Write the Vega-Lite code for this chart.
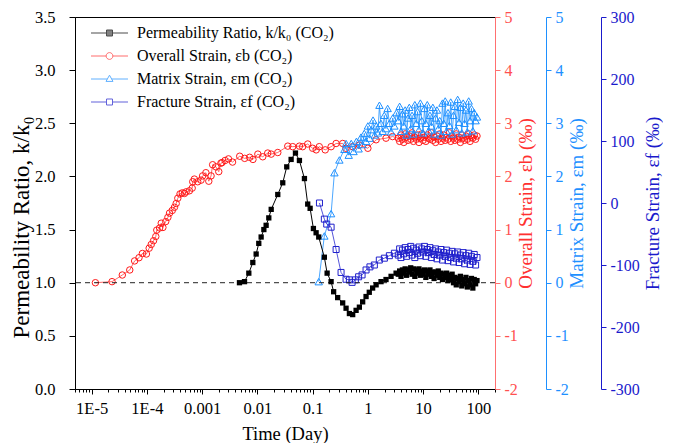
{
  "$schema": "https://vega.github.io/schema/vega-lite/v6.json",
  "width": 420,
  "height": 372,
  "padding": {"left": 10, "top": 9, "right": 0, "bottom": 0},
  "background": "white",
  "config": {
    "font": "Liberation Serif, Times New Roman, serif",
    "view": {"stroke": "black", "strokeWidth": 1},
    "style": {"guide-label": {"font": "Liberation Serif, Times New Roman, serif"}, "guide-title": {"font": "Liberation Serif, Times New Roman, serif"}},
    "axis": {"grid": false, "labelFont": "Liberation Serif, Times New Roman, serif", "titleFont": "Liberation Serif, Times New Roman, serif", "titleFontWeight": "normal", "domainWidth": 1, "tickWidth": 1, "labelFlush": false},
    "legend": {"labelFont": "Liberation Serif, Times New Roman, serif", "labelLimit": 400}
  },
  "resolve": {"scale": {"y": "independent"}},
  "layer": [
    {
      "data": {"values": [
        {"t":0.0000117,"eb":0},{"t":0.0000234,"eb":0.02},{"t":0.0000359,"eb":0.145},{"t":0.000049,"eb":0.24},{"t":0.00006,"eb":0.41},{"t":0.000072,"eb":0.47},{"t":0.000083,"eb":0.55},{"t":0.000098,"eb":0.54},{"t":0.00011,"eb":0.65},{"t":0.00012,"eb":0.72},{"t":0.000132,"eb":0.79},{"t":0.000145,"eb":0.87},{"t":0.000151,"eb":0.99},{"t":0.00017,"eb":1.03},{"t":0.000182,"eb":1.12},{"t":0.000195,"eb":1.04},{"t":0.000219,"eb":1.15},{"t":0.00024,"eb":1.23},{"t":0.000257,"eb":1.31},{"t":0.000288,"eb":1.36},{"t":0.000316,"eb":1.42},{"t":0.000339,"eb":1.49},{"t":0.000363,"eb":1.59},{"t":0.000398,"eb":1.67},{"t":0.000437,"eb":1.69},{"t":0.000479,"eb":1.68},{"t":0.000513,"eb":1.71},{"t":0.000589,"eb":1.73},{"t":0.000661,"eb":1.78},{"t":0.000676,"eb":1.9},{"t":0.000724,"eb":1.95},{"t":0.000832,"eb":1.9},{"t":0.000955,"eb":1.93},{"t":0.00102,"eb":2.01},{"t":0.00117,"eb":2.07},{"t":0.00132,"eb":1.91},{"t":0.00145,"eb":2.01},{"t":0.00155,"eb":2.22},{"t":0.00178,"eb":2.18},{"t":0.002,"eb":2.09},{"t":0.00219,"eb":2.25},{"t":0.00229,"eb":2.26},{"t":0.0026,"eb":2.3},{"t":0.003,"eb":2.33},{"t":0.00355,"eb":2.27},{"t":0.00479,"eb":2.38},{"t":0.00589,"eb":2.34},{"t":0.00724,"eb":2.36},{"t":0.00832,"eb":2.32},{"t":0.0102,"eb":2.42},{"t":0.0125,"eb":2.37},{"t":0.0154,"eb":2.44},{"t":0.0178,"eb":2.42},{"t":0.0234,"eb":2.45},{"t":0.0355,"eb":2.57},{"t":0.0436,"eb":2.56},{"t":0.0577,"eb":2.57},{"t":0.066,"eb":2.56},{"t":0.0815,"eb":2.61},{"t":0.1,"eb":2.53},{"t":0.116,"eb":2.5},{"t":0.132,"eb":2.56},{"t":0.169,"eb":2.5},{"t":0.216,"eb":2.56},{"t":0.266,"eb":2.62},{"t":0.35,"eb":2.62},{"t":0.4,"eb":2.53},{"t":0.53,"eb":2.56},{"t":0.7,"eb":2.59},{"t":1.0,"eb":2.53},{"t":1.41,"eb":2.69},{"t":2.13,"eb":2.72},{"t":2.8,"eb":2.75},
        {"t":3.55,"eb":2.72},{"t":3.76,"eb":2.66},{"t":3.98,"eb":2.78},{"t":4.22,"eb":2.7},{"t":4.47,"eb":2.64},{"t":4.73,"eb":2.8},{"t":5.01,"eb":2.74},{"t":5.31,"eb":2.68},{"t":5.62,"eb":2.76},{"t":5.96,"eb":2.7},{"t":6.31,"eb":2.82},{"t":6.68,"eb":2.66},{"t":7.08,"eb":2.74},{"t":7.5,"eb":2.7},{"t":7.94,"eb":2.78},{"t":8.41,"eb":2.64},{"t":8.91,"eb":2.72},{"t":9.44,"eb":2.8},{"t":10,"eb":2.68},{"t":10.6,"eb":2.74},{"t":11.2,"eb":2.66},{"t":11.9,"eb":2.78},{"t":12.6,"eb":2.72},{"t":13.3,"eb":2.7},{"t":14.1,"eb":2.82},{"t":15,"eb":2.68},{"t":15.8,"eb":2.74},{"t":16.8,"eb":2.64},{"t":17.8,"eb":2.76},{"t":18.8,"eb":2.7},{"t":20,"eb":2.8},{"t":21.1,"eb":2.66},{"t":22.4,"eb":2.72},{"t":23.7,"eb":2.78},{"t":25.1,"eb":2.68},{"t":26.6,"eb":2.74},{"t":28.2,"eb":2.7},{"t":29.9,"eb":2.82},{"t":31.6,"eb":2.66},{"t":33.5,"eb":2.76},{"t":35.5,"eb":2.72},{"t":37.6,"eb":2.68},{"t":39.8,"eb":2.8},{"t":42.2,"eb":2.7},{"t":44.7,"eb":2.74},{"t":47.3,"eb":2.64},{"t":50.1,"eb":2.78},{"t":53.1,"eb":2.72},{"t":56.2,"eb":2.68},{"t":59.6,"eb":2.76},{"t":63.1,"eb":2.7},{"t":66.8,"eb":2.8},{"t":70.8,"eb":2.66},{"t":75,"eb":2.74},{"t":79.4,"eb":2.72},{"t":84.1,"eb":2.78},{"t":89.1,"eb":2.7},{"t":94.4,"eb":2.76}
      ]},
      "mark": {"type": "line", "color": "#ff4040", "strokeWidth": 0.8, "point": {"shape": "circle", "filled": false, "size": 42, "color": "#ff1a1a", "strokeWidth": 1}},
      "encoding": {
        "x": {"field": "t", "type": "quantitative", "scale": {"type": "log", "domain": [0.000005, 200], "nice": false},
          "axis": {"orient": "bottom", "title": "Time (Day)", "titleFontSize": 18.5, "titlePadding": 8, "labelFont": "Liberation Serif, Times New Roman, serif", "labelFontSize": 16.5, "labelPadding": 6, "labelOverlap": false, "domainColor": "black", "tickColor": "black", "labelColor": "black", "titleColor": "black",
            "values": [0.000005,0.000006,0.000007,0.000008,0.000009,0.00001,0.00002,0.00003,0.00004,0.00005,0.00006,0.00007,0.00008,0.00009,0.0001,0.0002,0.0003,0.0004,0.0005,0.0006,0.0007,0.0008,0.0009,0.001,0.002,0.003,0.004,0.005,0.006,0.007,0.008,0.009,0.01,0.02,0.03,0.04,0.05,0.06,0.07,0.08,0.09,0.1,0.2,0.3,0.4,0.5,0.6,0.7,0.8,0.9,1,2,3,4,5,6,7,8,9,10,20,30,40,50,60,70,80,90,100,200],
            "labelExpr": "datum.value == 0.00001 ? '1E-5' : datum.value == 0.0001 ? '1E-4' : (indexof([0.001,0.01,0.1,1,10,100], datum.value) >= 0 ? '' + datum.value : '')",
            "tickSize": {"condition": {"test": "indexof([0.00001,0.0001,0.001,0.01,0.1,1,10,100], datum.value) >= 0", "value": 5}, "value": 3}}},
        "y": {"field": "eb", "type": "quantitative", "scale": {"domain": [-2, 5], "nice": false},
          "axis": {"orient": "right", "offset": 0, "values": [-2,-1,0,1,2,3,4,5], "labelExpr": "'' + datum.value", "title": "Overall Strain, εb (‰)", "titleAngle": 270, "titleBaseline": "top", "titleFontSize": 19, "titlePadding": -1, "labelFont": "Liberation Serif, Times New Roman, serif", "labelFontSize": 16, "tickSize": 5, "labelPadding": 4, "domainColor": "#ff7070", "tickColor": "#ff7070", "labelColor": "#ff5050", "titleColor": "#ff3030"}}
      }
    },
    {
      "data": {"values": [
        {"t":0.129,"em":0.02},{"t":0.163,"em":0.88},{"t":0.216,"em":1.3},{"t":0.248,"em":2.07},{"t":0.305,"em":2.31},{"t":0.376,"em":2.51},{"t":0.403,"em":2.62},{"t":0.45,"em":2.4},{"t":0.5,"em":2.62},{"t":0.55,"em":2.47},{"t":0.62,"em":2.66},{"t":0.68,"em":2.52},{"t":0.75,"em":2.74},{"t":0.8,"em":2.6},{"t":0.86,"em":2.81},{"t":0.93,"em":2.66},{"t":1.0,"em":2.95},{"t":1.07,"em":2.72},{"t":1.15,"em":2.88},{"t":1.24,"em":3.06},{"t":1.33,"em":2.78},{"t":1.42,"em":2.95},{"t":1.52,"em":2.82},{"t":1.62,"em":3.34},{"t":1.72,"em":3.0},{"t":1.85,"em":2.85},{"t":1.98,"em":3.15},{"t":2.12,"em":2.9},{"t":2.28,"em":3.28},{"t":2.45,"em":3.0},{"t":2.63,"em":2.84},{"t":2.82,"em":3.1},{"t":3.02,"em":2.95},{"t":3.3,"em":3.2},
        {"t":3.55,"em":3.05},{"t":3.76,"em":3.32},{"t":3.98,"em":2.85},{"t":4.22,"em":3.18},{"t":4.47,"em":2.95},{"t":4.73,"em":3.25},{"t":5.01,"em":2.78},{"t":5.31,"em":3.1},{"t":5.62,"em":3.3},{"t":5.96,"em":2.9},{"t":6.31,"em":3.15},{"t":6.68,"em":2.8},{"t":7.08,"em":3.35},{"t":7.5,"em":3.0},{"t":7.94,"em":3.22},{"t":8.41,"em":2.88},{"t":8.91,"em":3.38},{"t":9.44,"em":3.05},{"t":10,"em":2.82},{"t":10.6,"em":3.28},{"t":11.2,"em":3.0},{"t":11.9,"em":3.35},{"t":12.6,"em":2.86},{"t":13.3,"em":3.15},{"t":14.1,"em":2.95},{"t":15,"em":3.3},{"t":15.8,"em":2.8},{"t":16.8,"em":3.1},{"t":17.8,"em":3.25},{"t":18.8,"em":2.9},{"t":20,"em":3.05},{"t":21.1,"em":2.78},{"t":22.4,"em":3.38},{"t":23.7,"em":3.0},{"t":25.1,"em":3.42},{"t":26.6,"em":2.85},{"t":28.2,"em":3.2},{"t":29.9,"em":2.96},{"t":31.6,"em":3.4},{"t":33.5,"em":2.8},{"t":35.5,"em":3.15},{"t":37.6,"em":3.32},{"t":39.8,"em":2.88},{"t":42.2,"em":3.45},{"t":44.7,"em":3.02},{"t":47.3,"em":3.3},{"t":50.1,"em":2.82},{"t":53.1,"em":3.38},{"t":56.2,"em":3.0},{"t":59.6,"em":3.25},{"t":63.1,"em":2.84},{"t":66.8,"em":3.42},{"t":70.8,"em":3.05},{"t":75,"em":3.28},{"t":79.4,"em":2.86},{"t":84.1,"em":3.2},{"t":89.1,"em":3.05},{"t":94.4,"em":3.12}
      ]},
      "mark": {"type": "line", "color": "#1e90ff", "strokeWidth": 0.8, "point": {"shape": "triangle-up", "filled": false, "size": 55, "color": "#1e90ff", "strokeWidth": 1}},
      "encoding": {
        "x": {"field": "t", "type": "quantitative", "scale": {"type": "log", "domain": [0.000005, 200], "nice": false}},
        "y": {"field": "em", "type": "quantitative", "scale": {"domain": [-2, 5], "nice": false},
          "axis": {"orient": "right", "offset": 51, "values": [-2,-1,0,1,2,3,4,5], "labelExpr": "'' + datum.value", "title": "Matrix Strain, εm (‰)", "titleAngle": 270, "titleBaseline": "top", "titleFontSize": 19, "titlePadding": -1, "labelFont": "Liberation Serif, Times New Roman, serif", "labelFontSize": 16, "tickSize": 5, "labelPadding": 4, "domainColor": "#1e90ff", "tickColor": "#1e90ff", "labelColor": "#1e90ff", "titleColor": "#1e90ff"}}
      }
    },
    {
      "data": {"values": [
        {"t":0.133,"ef":0},{"t":0.163,"ef":-26},{"t":0.18,"ef":-34},{"t":0.216,"ef":-39},{"t":0.266,"ef":-75},{"t":0.327,"ef":-112},{"t":0.403,"ef":-123},{"t":0.463,"ef":-124},{"t":0.518,"ef":-128},{"t":0.594,"ef":-124},{"t":0.68,"ef":-119},{"t":0.785,"ef":-116},{"t":0.927,"ef":-108},{"t":1.09,"ef":-103},{"t":1.31,"ef":-100},{"t":1.61,"ef":-92},{"t":1.99,"ef":-89},{"t":2.45,"ef":-85},{"t":3.02,"ef":-81},
        {"t":3.55,"ef":-84},{"t":3.76,"ef":-74},{"t":3.98,"ef":-88},{"t":4.22,"ef":-76},{"t":4.47,"ef":-82},{"t":4.73,"ef":-72},{"t":5.01,"ef":-86},{"t":5.31,"ef":-75},{"t":5.62,"ef":-80},{"t":5.96,"ef":-70},{"t":6.31,"ef":-84},{"t":6.68,"ef":-73},{"t":7.08,"ef":-88},{"t":7.5,"ef":-76},{"t":7.94,"ef":-81},{"t":8.41,"ef":-71},{"t":8.91,"ef":-85},{"t":9.44,"ef":-74},{"t":10,"ef":-79},{"t":10.6,"ef":-70},{"t":11.2,"ef":-86},{"t":11.9,"ef":-75},{"t":12.6,"ef":-80},{"t":13.3,"ef":-72},{"t":14.1,"ef":-88},{"t":15,"ef":-77},{"t":15.8,"ef":-83},{"t":16.8,"ef":-74},{"t":17.8,"ef":-90},{"t":18.8,"ef":-79},{"t":20,"ef":-84},{"t":21.1,"ef":-75},{"t":22.4,"ef":-92},{"t":23.7,"ef":-80},{"t":25.1,"ef":-86},{"t":26.6,"ef":-76},{"t":28.2,"ef":-93},{"t":29.9,"ef":-81},{"t":31.6,"ef":-88},{"t":33.5,"ef":-78},{"t":35.5,"ef":-95},{"t":37.6,"ef":-82},{"t":39.8,"ef":-89},{"t":42.2,"ef":-79},{"t":44.7,"ef":-96},{"t":47.3,"ef":-84},{"t":50.1,"ef":-90},{"t":53.1,"ef":-80},{"t":56.2,"ef":-98},{"t":59.6,"ef":-85},{"t":63.1,"ef":-92},{"t":66.8,"ef":-81},{"t":70.8,"ef":-99},{"t":75,"ef":-86},{"t":79.4,"ef":-94},{"t":84.1,"ef":-83},{"t":89.1,"ef":-100},{"t":94.4,"ef":-88}
      ]},
      "mark": {"type": "line", "color": "#2a2ad0", "strokeWidth": 0.8, "point": {"shape": "square", "filled": false, "size": 36, "color": "#2020cc", "strokeWidth": 1}},
      "encoding": {
        "x": {"field": "t", "type": "quantitative", "scale": {"type": "log", "domain": [0.000005, 200], "nice": false}},
        "y": {"field": "ef", "type": "quantitative", "scale": {"domain": [-300, 300], "nice": false},
          "axis": {"orient": "right", "offset": 106, "values": [-300,-200,-100,0,100,200,300], "labelExpr": "'' + datum.value", "title": "Fracture Strain, εf (‰)", "titleAngle": 270, "titleBaseline": "top", "titleFontSize": 19, "titlePadding": 4, "labelFont": "Liberation Serif, Times New Roman, serif", "labelFontSize": 16, "tickSize": 5, "labelPadding": 4, "domainColor": "#1a1acc", "tickColor": "#1a1acc", "labelColor": "#1a1acc", "titleColor": "#1a1acc"}}
      }
    },
    {
      "data": {"values": [
        {"t":0.00474,"k":1.0},{"t":0.00585,"k":1.01},{"t":0.007,"k":1.09},{"t":0.00827,"k":1.19},{"t":0.0095,"k":1.27},{"t":0.0106,"k":1.37},{"t":0.0117,"k":1.43},{"t":0.0131,"k":1.5},{"t":0.0144,"k":1.54},{"t":0.0161,"k":1.61},{"t":0.0178,"k":1.69},{"t":0.0234,"k":1.83},{"t":0.0288,"k":1.94},{"t":0.034,"k":2.09},{"t":0.0408,"k":2.16},{"t":0.0489,"k":2.22},{"t":0.0577,"k":2.15},{"t":0.0711,"k":1.98},{"t":0.0815,"k":1.74},{"t":0.0901,"k":1.7},{"t":0.1033,"k":1.51},{"t":0.1156,"k":1.47},{"t":0.129,"k":1.43},{"t":0.163,"k":1.24},{"t":0.183,"k":1.09},{"t":0.216,"k":1.01},{"t":0.24,"k":0.915},{"t":0.284,"k":0.86},{"t":0.35,"k":0.81},{"t":0.403,"k":0.76},{"t":0.463,"k":0.71},{"t":0.531,"k":0.7},{"t":0.612,"k":0.74},{"t":0.702,"k":0.77},{"t":0.805,"k":0.82},{"t":0.927,"k":0.87},{"t":1.06,"k":0.91},{"t":1.22,"k":0.95},{"t":1.41,"k":0.98},{"t":1.73,"k":1.01},{"t":2.13,"k":1.03},{"t":2.63,"k":1.06},{"t":3.24,"k":1.09},
        {"t":3.55,"k":1.08},{"t":3.76,"k":1.11},{"t":3.98,"k":1.06},{"t":4.22,"k":1.12},{"t":4.47,"k":1.09},{"t":4.73,"k":1.13},{"t":5.01,"k":1.07},{"t":5.31,"k":1.12},{"t":5.62,"k":1.1},{"t":5.96,"k":1.14},{"t":6.31,"k":1.08},{"t":6.68,"k":1.13},{"t":7.08,"k":1.06},{"t":7.5,"k":1.12},{"t":7.94,"k":1.09},{"t":8.41,"k":1.13},{"t":8.91,"k":1.07},{"t":9.44,"k":1.11},{"t":10,"k":1.08},{"t":10.6,"k":1.12},{"t":11.2,"k":1.05},{"t":11.9,"k":1.11},{"t":12.6,"k":1.08},{"t":13.3,"k":1.12},{"t":14.1,"k":1.06},{"t":15,"k":1.1},{"t":15.8,"k":1.04},{"t":16.8,"k":1.1},{"t":17.8,"k":1.07},{"t":18.8,"k":1.11},{"t":20,"k":1.05},{"t":21.1,"k":1.09},{"t":22.4,"k":1.03},{"t":23.7,"k":1.08},{"t":25.1,"k":1.05},{"t":26.6,"k":1.09},{"t":28.2,"k":1.02},{"t":29.9,"k":1.07},{"t":31.6,"k":1.03},{"t":33.5,"k":1.08},{"t":35.5,"k":1.0},{"t":37.6,"k":1.05},{"t":39.8,"k":0.98},{"t":42.2,"k":1.04},{"t":44.7,"k":1.01},{"t":47.3,"k":1.06},{"t":50.1,"k":0.97},{"t":53.1,"k":1.03},{"t":56.2,"k":0.99},{"t":59.6,"k":1.05},{"t":63.1,"k":0.96},{"t":66.8,"k":1.02},{"t":70.8,"k":0.98},{"t":75,"k":1.04},{"t":79.4,"k":0.95},{"t":84.1,"k":1.03},{"t":89.1,"k":0.99},{"t":94.4,"k":1.02}
      ]},
      "layer": [
        {
          "data": {"values": [{"k": 1}]},
          "mark": {"type": "rule", "color": "#222222", "strokeWidth": 1, "strokeDash": [5, 4]},
          "encoding": {
            "y": {"field": "k", "type": "quantitative", "scale": {"domain": [0, 3.5], "nice": false},
              "axis": {"orient": "left", "values": [0,0.5,1,1.5,2,2.5,3,3.5], "format": ".1f", "title": "Permeability Ratio, k/k₀", "titleFontSize": 23, "titleX": -54, "titleY": 210, "titleBaseline": "middle", "titlePadding": 2, "labelFont": "Liberation Serif, Times New Roman, serif", "labelFontSize": 16.5, "tickSize": 6, "labelPadding": 14, "domainColor": "black", "tickColor": "black", "labelColor": "black", "titleColor": "black"}}
          }
        },
        {
          "mark": {"type": "line", "color": "black", "strokeWidth": 1, "point": {"shape": "square", "filled": true, "size": 28, "color": "black"}},
          "encoding": {
            "x": {"field": "t", "type": "quantitative", "scale": {"type": "log", "domain": [0.000005, 200], "nice": false}},
            "y": {"field": "k", "type": "quantitative", "scale": {"domain": [0, 3.5], "nice": false},
              "axis": {"orient": "left", "values": [0,0.5,1,1.5,2,2.5,3,3.5], "format": ".1f", "title": "Permeability Ratio, k/k₀", "titleFontSize": 23, "titleX": -54, "titleY": 210, "titleBaseline": "middle", "titlePadding": 2, "labelFont": "Liberation Serif, Times New Roman, serif", "labelFontSize": 16.5, "tickSize": 6, "labelPadding": 14, "domainColor": "black", "tickColor": "black", "labelColor": "black", "titleColor": "black"}}
          }
        }
      ]
    },
    {
      "data": {"values": [
        {"series": "Permeability Ratio, k/k₀ (CO₂)"},
        {"series": "Overall Strain, εb (CO₂)"},
        {"series": "Matrix Strain, εm (CO₂)"},
        {"series": "Fracture Strain, εf (CO₂)"}
      ]},
      "mark": {"type": "point", "clip": true, "strokeWidth": 1},
      "encoding": {
        "x": {"datum": 0.000000001, "type": "quantitative", "scale": {"type": "log", "domain": [0.000005, 200], "nice": false}},
        "stroke": {"field": "series", "type": "nominal",
          "scale": {"domain": ["Permeability Ratio, k/k₀ (CO₂)", "Overall Strain, εb (CO₂)", "Matrix Strain, εm (CO₂)", "Fracture Strain, εf (CO₂)"], "range": ["black", "#ff3030", "#1e90ff", "#2020cc"]},
          "legend": {"title": null, "orient": "none", "legendX": 42, "legendY": 8, "labelFontSize": 16, "labelColor": "black", "symbolSize": 64, "symbolStrokeWidth": 1, "labelOffset": 4, "rowPadding": 7, "padding": 0}},
        "fill": {"field": "series", "type": "nominal",
          "scale": {"domain": ["Permeability Ratio, k/k₀ (CO₂)", "Overall Strain, εb (CO₂)", "Matrix Strain, εm (CO₂)", "Fracture Strain, εf (CO₂)"], "range": ["black", "white", "white", "white"]},
          "legend": {"title": null, "orient": "none", "legendX": 42, "legendY": 8, "labelFontSize": 16, "labelColor": "black", "symbolSize": 64, "symbolStrokeWidth": 1, "labelOffset": 4, "rowPadding": 7, "padding": 0}},
        "shape": {"field": "series", "type": "nominal",
          "scale": {"domain": ["Permeability Ratio, k/k₀ (CO₂)", "Overall Strain, εb (CO₂)", "Matrix Strain, εm (CO₂)", "Fracture Strain, εf (CO₂)"],
            "range": [
              "M-8.5,0H-4.625M-3.125,0H0.75M-4.625,-0.75H-3.125V0.75H-4.625Z",
              "M-8.5,0H-4.725M-3.025,0H0.75M-3.025,0A0.85,0.85,0,1,1,-4.725,0A0.85,0.85,0,1,1,-3.025,0Z",
              "M-8.5,0H-4.41M-3.34,0H0.75M-3.875,-0.95L-3,0.6H-4.75Z",
              "M-8.5,0H-4.625M-3.125,0H0.75M-4.625,-0.75H-3.125V0.75H-4.625Z"
            ]},
          "legend": {"title": null, "orient": "none", "legendX": 42, "legendY": 8, "labelFontSize": 16, "labelColor": "black", "symbolSize": 64, "symbolStrokeWidth": 1, "labelOffset": 4, "rowPadding": 7, "padding": 0}}
      }
    }
  ]
}
